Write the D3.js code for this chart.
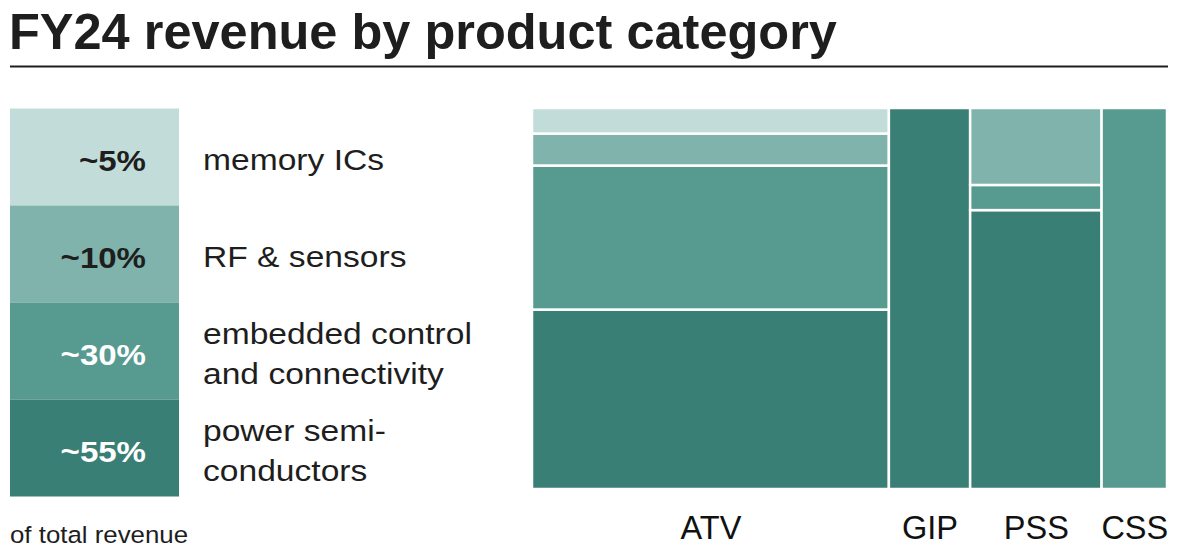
<!DOCTYPE html>
<html>
<head>
<meta charset="utf-8">
<script src="https://cdn.jsdelivr.net/npm/d3@7"></script>
<style>
  body { margin: 0; background: #fff; }
  svg { font-family: "Liberation Sans", Arial, Helvetica, sans-serif; }
</style>
</head>
<body>
<svg width="1182" height="558"></svg>
<script>
// data
const segments = ['memory ICs', 'RF & sensors', 'embedded control and connectivity', 'power semiconductors']
const segLines = [['memory ICs'], ['RF & sensors'], ['embedded control', 'and connectivity'], ['power semi-', 'conductors']]
const segPct = ['~5%', '~10%', '~30%', '~55%']
const divisions = ['ATV', 'GIP', 'PSS', 'CSS']
const divShare = [56.2, 12.8, 20.7, 10.3]   // share of total revenue (column width)
const memoryICs = [6.7, 0, 0, 0]             // % within each division
const rfSensors = [8.4, 0, 20.2, 0]
const embedded = [37.8, 0, 6.6, 100]
const powerSemi = [47.1, 100, 73.2, 0]

const colors = ['#c2ddd9', '#7fb3ac', '#569a90', '#3a7f75']
const pctColors = ['#1e1e1e', '#1e1e1e', '#ffffff', '#ffffff']
const stretch = 1.12 // legend text in the picture is drawn a bit wide

const svg = d3.select('svg')

// title + rule
svg.append('text')
    .attr('x', 9).attr('y', 49)
    .attr('font-size', '50.5px').attr('font-weight', 'bold')
    .attr('fill', '#1e1e1e')
    .text('FY24 revenue by product category')
svg.append('line')
    .attr('x1', 10).attr('x2', 1168).attr('y1', 66.5).attr('y2', 66.5)
    .attr('stroke', '#1e1e1e').attr('stroke-width', 2)

// legend column
const ly = d3.scaleBand().domain(segments).range([108.5, 496.5])
const lg = svg.append('g')
lg.selectAll('rect').data(segments).enter().append('rect')
    .attr('x', 10).attr('width', 169)
    .attr('y', d => ly(d)).attr('height', ly.bandwidth())
    .attr('fill', (d, i) => colors[i])
lg.selectAll('text.pct').data(segments).enter().append('text')
    .attr('class', 'pct')
    .attr('transform', d => `translate(146,${ly(d) + ly.bandwidth() / 2 + 14}) scale(${stretch},1)`)
    .attr('text-anchor', 'end')
    .attr('font-size', '29.5px').attr('font-weight', 'bold')
    .attr('fill', (d, i) => pctColors[i])
    .text((d, i) => segPct[i])
segments.forEach((s, i) => {
    const lines = segLines[i]
    const mid = ly(s) + ly.bandwidth() / 2
    lines.forEach((ln, j) => {
        const yy = mid + 13 + (j - (lines.length - 1) / 2) * 39.5
        lg.append('text')
            .attr('transform', `translate(203,${yy}) scale(${stretch},1)`)
            .attr('font-size', '30px').attr('fill', '#1e1e1e')
            .text(ln)
    })
})
svg.append('text')
    .attr('transform', `translate(10,543) scale(1.1,1)`)
    .attr('font-size', '23.5px').attr('fill', '#1e1e1e')
    .text('of total revenue')

// mekko
const x = d3.scaleLinear().domain([0, 100]).range([532, 1167])
const y = d3.scaleLinear().domain([0, 100]).range([489, 108])
const cum = d3.cumsum(divShare)
const cols = divisions.map((d, i) => ({
    name: d,
    x0: cum[i] - divShare[i],
    x1: cum[i],
    vals: [memoryICs[i], rfSensors[i], embedded[i], powerSemi[i]]
}))

const mg = svg.append('g')
cols.forEach(c => {
    // stack from bottom: power, embedded, rf, memory
    let base = 0
    for (let k = 3; k >= 0; k--) {
        const v = c.vals[k]
        if (v > 0) {
            mg.append('rect')
                .attr('x', x(c.x0)).attr('width', x(c.x1) - x(c.x0))
                .attr('y', y(base + v)).attr('height', y(base) - y(base + v))
                .attr('fill', colors[k])
                .attr('stroke', '#fff').attr('stroke-width', 2.5)
            base += v
        }
    }
})

const xAxis = d3.axisBottom(x)
    .tickValues(cols.map(c => (c.x0 + c.x1) / 2))
    .tickFormat((d, i) => divisions[i])
    .tickSize(0).tickPadding(27)
const xAxisG = svg.append('g').attr('transform', 'translate(0,489)').call(xAxis)
xAxisG.select('.domain').remove()
xAxisG.selectAll('text')
    .attr('font-size', '32.5px').attr('fill', '#111')
    .attr('font-family', '"Liberation Sans", Arial, sans-serif')
</script>
</body>
</html>
